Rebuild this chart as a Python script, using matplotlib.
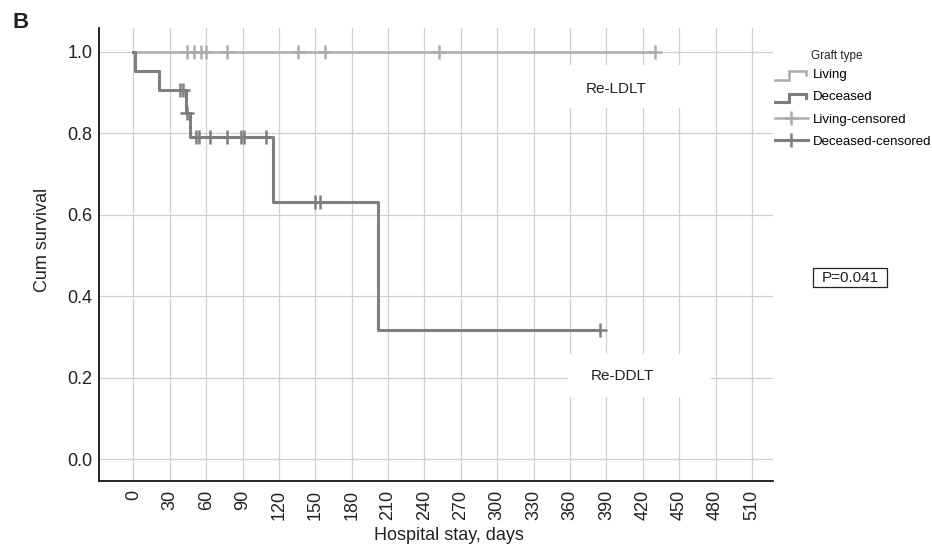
import matplotlib

matplotlib.use("Agg")
import matplotlib.pyplot as plt
from matplotlib.legend_handler import HandlerBase
from matplotlib.lines import Line2D
from matplotlib.patches import Rectangle

plt.rcParams["font.family"] = ["Liberation Sans", "DejaVu Sans"]

# Kaplan-Meier curves (days, cumulative survival)
living_times = [0, 430]
living_surv = [1.0, 1.0]
living_cens_t = [44, 50, 56, 60, 77, 136, 158, 252, 430]
living_cens_s = [1.0, 1.0, 1.0, 1.0, 1.0, 1.0, 1.0, 1.0, 1.0]

deceased_times = [0, 1, 21, 43, 47, 115, 202, 385]
deceased_surv = [1.0, 0.952, 0.905, 0.850, 0.790, 0.632, 0.316, 0.316]
deceased_cens_t = [38.5, 41, 44, 51.5, 54, 63, 77, 89, 91, 109, 150, 154, 385]
deceased_cens_s = [0.905, 0.905, 0.850, 0.790, 0.790, 0.790, 0.790, 0.790,
                   0.790, 0.790, 0.632, 0.632, 0.316]

x_ticks = list(range(0, 511, 30))
y_ticks = [0.0, 0.2, 0.4, 0.6, 0.8, 1.0]
p_text = "P=0.041"

LIGHT = "#acacac"
DARK = "#7e7e7e"
GRID = "#d0d0d0"
TXT = "#222222"
W, H = 932, 554


class StepHandler(HandlerBase):
    """Legend key drawn as a little survival step."""

    def create_artists(self, legend, orig_handle, xdescent, ydescent,
                       width, height, fontsize, trans):
        x0 = -xdescent
        xs = [x0, x0 + 0.42 * width, x0 + 0.42 * width, x0 + 0.95 * width, x0 + 0.95 * width]
        ys = [-0.15 * height, -0.15 * height, 0.75 * height, 0.75 * height, 0.3 * height]
        ln = Line2D(xs, ys, color=orig_handle.get_color(),
                    lw=orig_handle.get_linewidth(), solid_joinstyle="miter")
        ln.set_transform(trans)
        return [ln]


fig = plt.figure(figsize=(W / 100, H / 100), dpi=100)
ax = fig.add_axes([99 / W, 1 - 481 / H, (773 - 99) / W, (481 - 28) / H])

ax.set_xlim(-28.4, 527.4)
ax.set_ylim(-0.054, 1.058)
ax.set_xticks(x_ticks)
ax.set_yticks(y_ticks)
ax.set_yticklabels([f"{v:.1f}" for v in y_ticks])
ax.tick_params(axis="x", length=0, pad=6.5, labelsize=13, labelrotation=90,
               colors=TXT)
ax.tick_params(axis="y", length=0, pad=4.7, labelsize=13, colors=TXT)
ax.grid(True, color=GRID, lw=0.9, zorder=0)
ax.set_axisbelow(True)
for side in ("top", "right"):
    ax.spines[side].set_visible(False)
for side in ("left", "bottom"):
    ax.spines[side].set_linewidth(1.3)
    ax.spines[side].set_color("#111111")

# white boxes behind the group labels (they hide the grid)
ax.add_patch(Rectangle((339, 0.861), 118, 0.106, facecolor="white",
                       edgecolor="none", zorder=1))
ax.add_patch(Rectangle((358, 0.152), 118, 0.106, facecolor="white",
                       edgecolor="none", zorder=1))
ax.text(397.7, 0.908, "Re-LDLT", ha="center", va="center", fontsize=11,
        color=TXT, zorder=2)
ax.text(403.2, 0.204, "Re-DDLT", ha="center", va="center", fontsize=11,
        color=TXT, zorder=2)

(living_line,) = ax.step(living_times, living_surv, where="post", color=LIGHT,
                         lw=1.8, zorder=3, label="Living")
(deceased_line,) = ax.step(deceased_times, deceased_surv, where="post", color=DARK,
                           lw=2.2, zorder=4, label="Deceased")
ax.plot(living_cens_t, living_cens_s, ls="none", marker="+", ms=10, mew=1.8,
        color=LIGHT, zorder=3)
ax.plot(deceased_cens_t, deceased_cens_s, ls="none", marker="+", ms=10, mew=1.8,
        color=DARK, zorder=4)

ax.set_xlabel("Hospital stay, days", fontsize=13, color=TXT)
ax.set_ylabel("Cum survival", fontsize=13, color=TXT)
ax.xaxis.set_label_coords((449 - 99) / 674, (481 - 527) / 453)
ax.yaxis.set_label_coords((51 - 99) / 674, (481 - 240) / 453)

# legend, outside the plot on the right
liv_c = Line2D([], [], color=LIGHT, lw=1.8, marker="+", ms=10, mew=1.8)
dec_c = Line2D([], [], color=DARK, lw=2.2, marker="+", ms=10, mew=1.8)
fig.legend([living_line, deceased_line, liv_c, dec_c],
           ["Living", "Deceased", "Living-censored", "Deceased-censored"],
           handler_map={living_line: StepHandler(), deceased_line: StepHandler()},
           loc="upper left", bbox_to_anchor=(775 / W, 1 - 69 / H),
           frameon=False, borderpad=0, borderaxespad=0, fontsize=9.5,
           handlelength=2.5, handletextpad=0.4, labelspacing=0.76, numpoints=1)
fig.text(811 / W, 1 - 56 / H, "Graft type", fontsize=8.5, ha="left",
         va="center", color=TXT)

# p-value box
fig.add_artist(Rectangle((813 / W, 1 - 287 / H), 74 / W, 19 / H,
                         transform=fig.transFigure, facecolor="white",
                         edgecolor=TXT, lw=0.9))
fig.text(850 / W, 1 - 277.5 / H, p_text, fontsize=11, ha="center",
         va="center", color=TXT)

fig.text(13 / W, 1 - 22 / H, "B", fontsize=16, fontweight="bold", ha="left",
         va="center", color=TXT)

fig.savefig("out.png", dpi=100)
